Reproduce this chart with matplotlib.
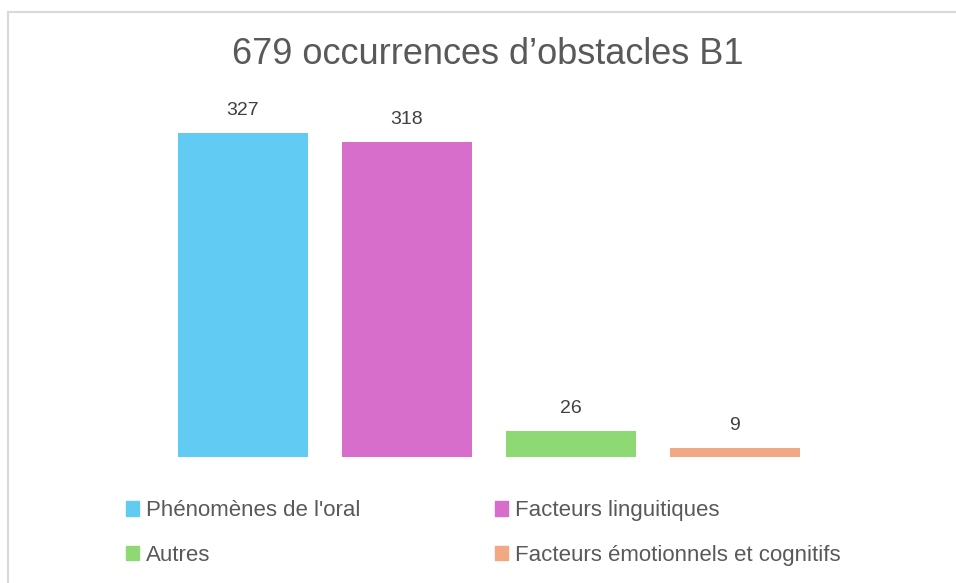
import matplotlib.pyplot as plt
from matplotlib.patches import Patch, Rectangle

categories = ["Phénomènes de l'oral", "Facteurs linguitiques", "Autres",
              "Facteurs émotionnels et cognitifs"]
values = [327, 318, 26, 9]
colors = ["#61CBF3", "#D86ECC", "#8ED973", "#F1A983"]
title = "679 occurrences d\u2019obstacles B1"

plt.rcParams['font.family'] = ['Liberation Sans', 'DejaVu Sans']

fig = plt.figure(figsize=(9.56, 5.83), dpi=100)
# light frame around the chart area
fig.patches.append(Rectangle((8 / 956, -0.05), 1.1, 1 - 12 / 583 + 0.05,
                             transform=fig.transFigure, fill=False,
                             edgecolor="#D9D9D9", linewidth=1.5))

ax = fig.add_axes([161 / 956, 126 / 583, 656 / 956, 347 / 583])
x = range(len(values))
bars = ax.bar(x, values, width=0.79, color=colors)
for b, v in zip(bars, values):
    ax.text(b.get_x() + b.get_width() / 2, v + 14, str(v), ha="center", va="bottom",
            fontsize=14, color="#404040")
ax.set_xlim(-0.5, 3.5)
ax.set_ylim(0, 350)
ax.axis("off")

fig.text(488 / 956, 1 - 55 / 583, title, ha="center", va="center", fontsize=26,
         color="#595959")

handles = [Patch(color=c, label=l) for c, l in zip(colors, categories)]
order = [0, 2, 1, 3]
fig.legend([handles[i] for i in order], [categories[i] for i in order],
           ncol=2, loc="center left", bbox_to_anchor=(106 / 956, 1 - 533 / 583),
           frameon=False, fontsize=16, labelcolor="#595959",
           handlelength=0.6, handleheight=0.6, handletextpad=0.3,
           columnspacing=6.05, labelspacing=1.05)

fig.savefig("out.png", dpi=100)
